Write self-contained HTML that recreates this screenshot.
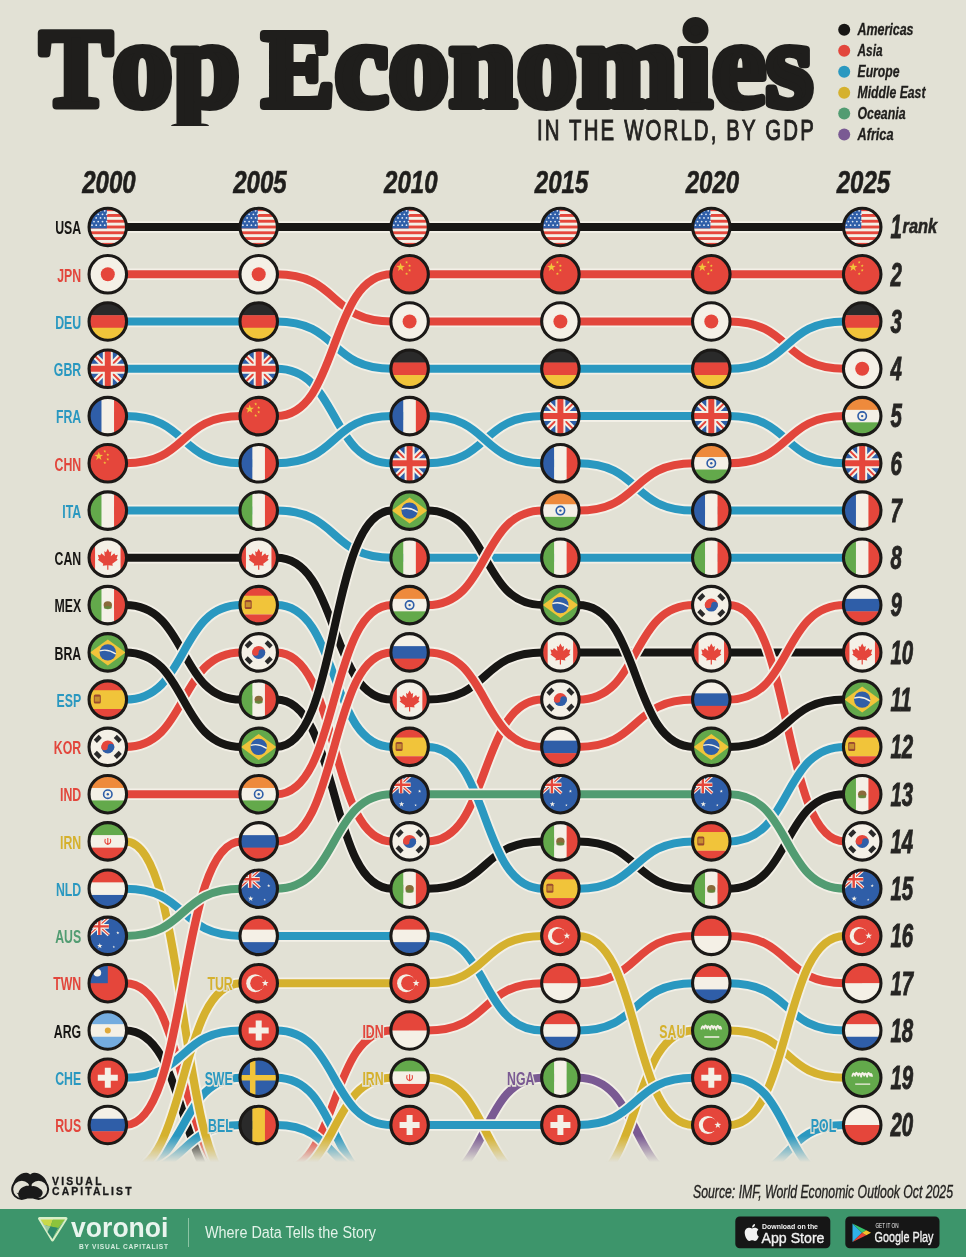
<!DOCTYPE html>
<html><head><meta charset="utf-8"><title>Top Economies in the World, by GDP</title><style>html,body{margin:0;padding:0;background:#e2e1d5;}svg{display:block;}</style></head>
<body>
<svg width="966" height="1257" viewBox="0 0 966 1257">
<defs>
<clipPath id="cc"><circle r="18.75"/></clipPath>
<clipPath id="tclip"><rect x="0" y="0" width="830" height="126"/></clipPath>
<linearGradient id="fadeg" x1="0" y1="0" x2="0" y2="1" gradientUnits="objectBoundingBox"><stop offset="0" stop-color="#fff"/><stop offset="1" stop-color="#000"/></linearGradient>
<mask id="fade" maskUnits="userSpaceOnUse" x="0" y="0" width="966" height="1257"><rect x="0" y="0" width="966" height="1136" fill="#fff"/><rect x="0" y="1136" width="966" height="26" fill="url(#fadeg)"/></mask>
<g id="fUSA"><g clip-path="url(#cc)"><rect x="-18.75" y="-18.75" width="37.5" height="37.5" fill="#f4f0e6"/><rect x="-18.75" y="-18.75" width="37.5" height="2.88" fill="#e5463b"/><rect x="-18.75" y="-12.98" width="37.5" height="2.88" fill="#e5463b"/><rect x="-18.75" y="-7.21" width="37.5" height="2.88" fill="#e5463b"/><rect x="-18.75" y="-1.44" width="37.5" height="2.88" fill="#e5463b"/><rect x="-18.75" y="4.33" width="37.5" height="2.88" fill="#e5463b"/><rect x="-18.75" y="10.10" width="37.5" height="2.88" fill="#e5463b"/><rect x="-18.75" y="15.87" width="37.5" height="2.88" fill="#e5463b"/><rect x="-18.75" y="-18.75" width="17.81" height="20.19" fill="#2f5ea8"/><circle cx="-15.8" cy="-16.2" r="0.9" fill="#dfe8f5"/><circle cx="-11.6" cy="-16.2" r="0.9" fill="#dfe8f5"/><circle cx="-7.3" cy="-16.2" r="0.9" fill="#dfe8f5"/><circle cx="-3.1" cy="-16.2" r="0.9" fill="#dfe8f5"/><circle cx="-13.8" cy="-12.7" r="0.9" fill="#dfe8f5"/><circle cx="-9.6" cy="-12.7" r="0.9" fill="#dfe8f5"/><circle cx="-5.3" cy="-12.7" r="0.9" fill="#dfe8f5"/><circle cx="-1.1" cy="-12.7" r="0.9" fill="#dfe8f5"/><circle cx="-15.8" cy="-9.1" r="0.9" fill="#dfe8f5"/><circle cx="-11.6" cy="-9.1" r="0.9" fill="#dfe8f5"/><circle cx="-7.3" cy="-9.1" r="0.9" fill="#dfe8f5"/><circle cx="-3.1" cy="-9.1" r="0.9" fill="#dfe8f5"/><circle cx="-13.8" cy="-5.4" r="0.9" fill="#dfe8f5"/><circle cx="-9.6" cy="-5.4" r="0.9" fill="#dfe8f5"/><circle cx="-5.3" cy="-5.4" r="0.9" fill="#dfe8f5"/><circle cx="-1.1" cy="-5.4" r="0.9" fill="#dfe8f5"/><circle cx="-15.8" cy="-1.8" r="0.9" fill="#dfe8f5"/><circle cx="-11.6" cy="-1.8" r="0.9" fill="#dfe8f5"/><circle cx="-7.3" cy="-1.8" r="0.9" fill="#dfe8f5"/><circle cx="-3.1" cy="-1.8" r="0.9" fill="#dfe8f5"/></g><circle r="18.75" fill="none" stroke="#1b1917" stroke-width="3.1"/></g>
<g id="fJPN"><g clip-path="url(#cc)"><rect x="-18.75" y="-18.75" width="37.5" height="37.5" fill="#f4f0e6"/><circle r="7" fill="#e5463b"/></g><circle r="18.75" fill="none" stroke="#1b1917" stroke-width="3.1"/></g>
<g id="fDEU"><g clip-path="url(#cc)"><rect x="-18.75" y="-18.75" width="37.5" height="12.80" fill="#2a2a2a"/><rect x="-18.75" y="-6.25" width="37.5" height="12.80" fill="#e5463b"/><rect x="-18.75" y="6.25" width="37.5" height="12.80" fill="#f1c43a"/></g><circle r="18.75" fill="none" stroke="#1b1917" stroke-width="3.1"/></g>
<g id="fGBR"><g clip-path="url(#cc)"><rect x="-18.75" y="-18.75" width="37.5" height="37.5" fill="#2f5ea8"/><path d="M-18.75,-18.75L18.75,18.75M18.75,-18.75L-18.75,18.75" stroke="#f4f0e6" stroke-width="6"/><path d="M-18.75,-18.75L18.75,18.75M18.75,-18.75L-18.75,18.75" stroke="#e5463b" stroke-width="2"/><path d="M0,-18.75V18.75M-18.75,0H18.75" stroke="#f4f0e6" stroke-width="10"/><path d="M0,-18.75V18.75M-18.75,0H18.75" stroke="#e5463b" stroke-width="6"/></g><circle r="18.75" fill="none" stroke="#1b1917" stroke-width="3.1"/></g>
<g id="fFRA"><g clip-path="url(#cc)"><rect x="-18.75" y="-18.75" width="12.80" height="37.5" fill="#2f5ea8"/><rect x="-6.25" y="-18.75" width="12.80" height="37.5" fill="#f4f0e6"/><rect x="6.25" y="-18.75" width="12.80" height="37.5" fill="#e5463b"/></g><circle r="18.75" fill="none" stroke="#1b1917" stroke-width="3.1"/></g>
<g id="fCHN"><g clip-path="url(#cc)"><rect x="-18.75" y="-18.75" width="37.5" height="37.5" fill="#e5463b"/><polygon points="-9.00,-11.50 -7.94,-8.46 -4.72,-8.39 -7.29,-6.44 -6.35,-3.36 -9.00,-5.20 -11.65,-3.36 -10.71,-6.44 -13.28,-8.39 -10.06,-8.46" fill="#f1c43a"/><polygon points="-3.00,-13.60 -2.62,-12.52 -1.48,-12.49 -2.39,-11.80 -2.06,-10.71 -3.00,-11.36 -3.94,-10.71 -3.61,-11.80 -4.52,-12.49 -3.38,-12.52" fill="#f1c43a"/><polygon points="0.00,-10.10 0.38,-9.02 1.52,-8.99 0.61,-8.30 0.94,-7.21 0.00,-7.86 -0.94,-7.21 -0.61,-8.30 -1.52,-8.99 -0.38,-9.02" fill="#f1c43a"/><polygon points="0.00,-5.60 0.38,-4.52 1.52,-4.49 0.61,-3.80 0.94,-2.71 0.00,-3.36 -0.94,-2.71 -0.61,-3.80 -1.52,-4.49 -0.38,-4.52" fill="#f1c43a"/><polygon points="-3.00,-2.10 -2.62,-1.02 -1.48,-0.99 -2.39,-0.30 -2.06,0.79 -3.00,0.14 -3.94,0.79 -3.61,-0.30 -4.52,-0.99 -3.38,-1.02" fill="#f1c43a"/></g><circle r="18.75" fill="none" stroke="#1b1917" stroke-width="3.1"/></g>
<g id="fITA"><g clip-path="url(#cc)"><rect x="-18.75" y="-18.75" width="12.80" height="37.5" fill="#63a94b"/><rect x="-6.25" y="-18.75" width="12.80" height="37.5" fill="#f4f0e6"/><rect x="6.25" y="-18.75" width="12.80" height="37.5" fill="#e5463b"/></g><circle r="18.75" fill="none" stroke="#1b1917" stroke-width="3.1"/></g>
<g id="fCAN"><g clip-path="url(#cc)"><rect x="-18.75" y="-18.75" width="37.5" height="37.5" fill="#f4f0e6"/><rect x="-18.75" y="-18.75" width="6" height="37.5" fill="#e5463b"/><rect x="12.75" y="-18.75" width="6" height="37.5" fill="#e5463b"/><path d="M0,-9L1.8,-5.5L3.6,-6.5L3,-1.5L6.5,-4.5L7.5,-2.5L10,-3L8.8,1L10,2L4.5,6L5,8L0.6,7.4L0.6,12H-0.6L-0.6,7.4L-5,8L-4.5,6L-10,2L-8.8,1L-10,-3L-7.5,-2.5L-6.5,-4.5L-3,-1.5L-3.6,-6.5L-1.8,-5.5Z" fill="#e5463b"/></g><circle r="18.75" fill="none" stroke="#1b1917" stroke-width="3.1"/></g>
<g id="fMEX"><g clip-path="url(#cc)"><rect x="-18.75" y="-18.75" width="12.80" height="37.5" fill="#63a94b"/><rect x="-6.25" y="-18.75" width="12.80" height="37.5" fill="#f4f0e6"/><rect x="6.25" y="-18.75" width="12.80" height="37.5" fill="#e5463b"/><ellipse cx="0" cy="0" rx="4.2" ry="3.8" fill="#8a6a3a"/><ellipse cx="0" cy="2.5" rx="4" ry="1.6" fill="#5e8a3a" opacity="0.8"/></g><circle r="18.75" fill="none" stroke="#1b1917" stroke-width="3.1"/></g>
<g id="fBRA"><g clip-path="url(#cc)"><rect x="-18.75" y="-18.75" width="37.5" height="37.5" fill="#63a94b"/><polygon points="-17.75,0 0,-13 17.75,0 0,13" fill="#f1c43a"/><circle r="8.2" fill="#2f5ea8"/><path d="M-8,-1.5Q0,-4 8,1.5" stroke="#f4f0e6" stroke-width="1.4" fill="none"/></g><circle r="18.75" fill="none" stroke="#1b1917" stroke-width="3.1"/></g>
<g id="fESP"><g clip-path="url(#cc)"><rect x="-18.75" y="-18.75" width="37.5" height="18.75" fill="#e5463b"/><rect x="-18.75" y="-9.38" width="37.5" height="18.75" fill="#f1c43a"/><rect x="-18.75" y="9.38" width="37.5" height="9.57" fill="#e5463b"/><rect x="-14" y="-5" width="7" height="9" rx="1.5" fill="#9a4a30"/><rect x="-13" y="-3" width="5" height="5" fill="#c8902f"/></g><circle r="18.75" fill="none" stroke="#1b1917" stroke-width="3.1"/></g>
<g id="fKOR"><g clip-path="url(#cc)"><rect x="-18.75" y="-18.75" width="37.5" height="37.5" fill="#f4f0e6"/><path d="M-6.5,0A6.5,6.5 0 0 1 6.5,0Z" fill="#e5463b"/><path d="M-6.5,0A6.5,6.5 0 0 0 6.5,0Z" fill="#2f5ea8"/><circle cx="-3.25" cy="0" r="3.25" fill="#e5463b"/><circle cx="3.25" cy="0" r="3.25" fill="#2f5ea8"/><rect x="-12.2" y="-11.5" width="4.4" height="7" fill="#2a2a2a" transform="rotate(45 -10 -8)"/><rect x="7.8" y="-11.5" width="4.4" height="7" fill="#2a2a2a" transform="rotate(-45 10 -8)"/><rect x="-12.2" y="4.5" width="4.4" height="7" fill="#2a2a2a" transform="rotate(-45 -10 8)"/><rect x="7.8" y="4.5" width="4.4" height="7" fill="#2a2a2a" transform="rotate(45 10 8)"/></g><circle r="18.75" fill="none" stroke="#1b1917" stroke-width="3.1"/></g>
<g id="fIND"><g clip-path="url(#cc)"><rect x="-18.75" y="-18.75" width="37.5" height="12.80" fill="#ee8a3c"/><rect x="-18.75" y="-6.25" width="37.5" height="12.80" fill="#f4f0e6"/><rect x="-18.75" y="6.25" width="37.5" height="12.80" fill="#63a94b"/><circle r="4.2" fill="none" stroke="#2f5ea8" stroke-width="1.6"/><circle r="1.2" fill="#2f5ea8"/></g><circle r="18.75" fill="none" stroke="#1b1917" stroke-width="3.1"/></g>
<g id="fIRN"><g clip-path="url(#cc)"><rect x="-18.75" y="-18.75" width="37.5" height="12.80" fill="#63a94b"/><rect x="-18.75" y="-6.25" width="37.5" height="12.80" fill="#f4f0e6"/><rect x="-18.75" y="6.25" width="37.5" height="12.80" fill="#e5463b"/><path d="M-2.5,-2.5Q-4,2 0,3Q4,2 2.5,-2.5M0,-3.5V3" stroke="#e5463b" stroke-width="1.1" fill="none"/></g><circle r="18.75" fill="none" stroke="#1b1917" stroke-width="3.1"/></g>
<g id="fNLD"><g clip-path="url(#cc)"><rect x="-18.75" y="-18.75" width="37.5" height="12.80" fill="#e5463b"/><rect x="-18.75" y="-6.25" width="37.5" height="12.80" fill="#f4f0e6"/><rect x="-18.75" y="6.25" width="37.5" height="12.80" fill="#2f5ea8"/></g><circle r="18.75" fill="none" stroke="#1b1917" stroke-width="3.1"/></g>
<g id="fAUS"><g clip-path="url(#cc)"><rect x="-18.75" y="-18.75" width="37.5" height="37.5" fill="#2f5ea8"/><path d="M-18.75,-18.75L1,-1M1,-18.75L-18.75,-1" stroke="#f4f0e6" stroke-width="3.4"/><path d="M-18.75,-18.75L1,-1M1,-18.75L-18.75,-1" stroke="#e5463b" stroke-width="1.2"/><path d="M-8.5,-18.75V-1M-18.75,-9.5H1" stroke="#f4f0e6" stroke-width="4.6"/><path d="M-8.5,-18.75V-1M-18.75,-9.5H1" stroke="#e5463b" stroke-width="2.4"/><polygon points="-8.00,7.20 -7.34,9.09 -5.34,9.13 -6.93,10.35 -6.35,12.27 -8.00,11.12 -9.65,12.27 -9.07,10.35 -10.66,9.13 -8.66,9.09" fill="#f4f0e6"/><polygon points="10.00,-4.70 10.40,-3.55 11.62,-3.53 10.65,-2.79 11.00,-1.62 10.00,-2.32 9.00,-1.62 9.35,-2.79 8.38,-3.53 9.60,-3.55" fill="#f4f0e6"/><polygon points="6.00,9.70 6.31,10.58 7.24,10.60 6.49,11.16 6.76,12.05 6.00,11.52 5.24,12.05 5.51,11.16 4.76,10.60 5.69,10.58" fill="#f4f0e6"/></g><circle r="18.75" fill="none" stroke="#1b1917" stroke-width="3.1"/></g>
<g id="fTWN"><g clip-path="url(#cc)"><rect x="-18.75" y="-18.75" width="37.5" height="37.5" fill="#e5463b"/><rect x="-18.75" y="-18.75" width="18.75" height="18.75" fill="#2f5ea8"/><circle cx="-10.4" cy="-10.4" r="3.8" fill="#f4f0e6"/></g><circle r="18.75" fill="none" stroke="#1b1917" stroke-width="3.1"/></g>
<g id="fARG"><g clip-path="url(#cc)"><rect x="-18.75" y="-18.75" width="37.5" height="12.80" fill="#74acdf"/><rect x="-18.75" y="-6.25" width="37.5" height="12.80" fill="#f4f0e6"/><rect x="-18.75" y="6.25" width="37.5" height="12.80" fill="#74acdf"/><circle r="3" fill="#e0a93a"/></g><circle r="18.75" fill="none" stroke="#1b1917" stroke-width="3.1"/></g>
<g id="fCHE"><g clip-path="url(#cc)"><rect x="-18.75" y="-18.75" width="37.5" height="37.5" fill="#e5463b"/><path d="M-3,-10H3V-3H10V3H3V10H-3V3H-10V-3H-3Z" fill="#f4f0e6"/></g><circle r="18.75" fill="none" stroke="#1b1917" stroke-width="3.1"/></g>
<g id="fRUS"><g clip-path="url(#cc)"><rect x="-18.75" y="-18.75" width="37.5" height="12.80" fill="#f4f0e6"/><rect x="-18.75" y="-6.25" width="37.5" height="12.80" fill="#2f5ea8"/><rect x="-18.75" y="6.25" width="37.5" height="12.80" fill="#e5463b"/></g><circle r="18.75" fill="none" stroke="#1b1917" stroke-width="3.1"/></g>
<g id="fTUR"><g clip-path="url(#cc)"><rect x="-18.75" y="-18.75" width="37.5" height="37.5" fill="#e5463b"/><circle cx="-3.5" cy="0" r="9" fill="#f4f0e6"/><circle cx="-1.2" cy="0" r="7.3" fill="#e5463b"/><polygon points="6.50,-3.60 7.35,-1.16 9.92,-1.11 7.87,0.44 8.62,2.91 6.50,1.44 4.38,2.91 5.13,0.44 3.08,-1.11 5.65,-1.16" fill="#f4f0e6"/></g><circle r="18.75" fill="none" stroke="#1b1917" stroke-width="3.1"/></g>
<g id="fSWE"><g clip-path="url(#cc)"><rect x="-18.75" y="-18.75" width="37.5" height="37.5" fill="#2f5ea8"/><path d="M-6,-18.75V18.75M-18.75,0H18.75" stroke="#f1c43a" stroke-width="5.5"/></g><circle r="18.75" fill="none" stroke="#1b1917" stroke-width="3.1"/></g>
<g id="fBEL"><g clip-path="url(#cc)"><rect x="-18.75" y="-18.75" width="12.80" height="37.5" fill="#2a2a2a"/><rect x="-6.25" y="-18.75" width="12.80" height="37.5" fill="#f1c43a"/><rect x="6.25" y="-18.75" width="12.80" height="37.5" fill="#e5463b"/></g><circle r="18.75" fill="none" stroke="#1b1917" stroke-width="3.1"/></g>
<g id="fIDN"><g clip-path="url(#cc)"><rect x="-18.75" y="-18.75" width="37.5" height="19.05" fill="#e5463b"/><rect x="-18.75" y="0.00" width="37.5" height="19.05" fill="#f4f0e6"/></g><circle r="18.75" fill="none" stroke="#1b1917" stroke-width="3.1"/></g>
<g id="fNGA"><g clip-path="url(#cc)"><rect x="-18.75" y="-18.75" width="12.80" height="37.5" fill="#63a94b"/><rect x="-6.25" y="-18.75" width="12.80" height="37.5" fill="#f4f0e6"/><rect x="6.25" y="-18.75" width="12.80" height="37.5" fill="#63a94b"/></g><circle r="18.75" fill="none" stroke="#1b1917" stroke-width="3.1"/></g>
<g id="fSAU"><g clip-path="url(#cc)"><rect x="-18.75" y="-18.75" width="37.5" height="37.5" fill="#63a94b"/><path d="M-10,-1 Q-9,-7 -7,-2 Q-6,-8 -4,-2 Q-3,-7 -1,-1 Q0,-8 2,-2 Q3,-7 5,-1 Q6,-8 8,-2 Q9,-6 10,-1" stroke="#f4f0e6" stroke-width="1.8" fill="none" stroke-linejoin="round"/><path d="M-9,-3.5H9" stroke="#f4f0e6" stroke-width="1.2"/><path d="M-7,6.5H8" stroke="#f4f0e6" stroke-width="1.3"/></g><circle r="18.75" fill="none" stroke="#1b1917" stroke-width="3.1"/></g>
<g id="fPOL"><g clip-path="url(#cc)"><rect x="-18.75" y="-18.75" width="37.5" height="19.05" fill="#f4f0e6"/><rect x="-18.75" y="0.00" width="37.5" height="19.05" fill="#e5463b"/></g><circle r="18.75" fill="none" stroke="#1b1917" stroke-width="3.1"/></g>
</defs>
<rect width="966" height="1257" fill="#e2e1d5"/>
<g clip-path="url(#tclip)">
<text x="40" y="106" font-family="'Liberation Serif', serif" font-weight="bold" fill="#1f1e1c" stroke="#1f1e1c" stroke-width="8" stroke-linejoin="round" lengthAdjust="spacingAndGlyphs" textLength="200"><tspan font-size="110">T</tspan><tspan font-size="123">op</tspan></text>
<text x="262" y="106" font-family="'Liberation Serif', serif" font-weight="bold" fill="#1f1e1c" stroke="#1f1e1c" stroke-width="8" stroke-linejoin="round" lengthAdjust="spacingAndGlyphs" textLength="551"><tspan font-size="110">E</tspan><tspan font-size="123">conomies</tspan></text>
</g>
<text transform="translate(537,140.3) scale(0.68,1)" font-family="'Liberation Sans', sans-serif" font-size="30" fill="#232220" stroke="#232220" stroke-width="1" textLength="407" lengthAdjust="spacing">IN THE WORLD, BY GDP</text>
<circle cx="844.2" cy="29.8" r="6" fill="#171614"/>
<text x="857.5" y="35.4" font-family="'Liberation Sans', sans-serif" font-weight="bold" font-style="italic" font-size="16" fill="#1f1e1c" stroke="#1f1e1c" stroke-width="0.3" textLength="56" lengthAdjust="spacingAndGlyphs">Americas</text>
<circle cx="844.2" cy="50.8" r="6" fill="#e2463c"/>
<text x="857.5" y="56.4" font-family="'Liberation Sans', sans-serif" font-weight="bold" font-style="italic" font-size="16" fill="#1f1e1c" stroke="#1f1e1c" stroke-width="0.3" textLength="25" lengthAdjust="spacingAndGlyphs">Asia</text>
<circle cx="844.2" cy="71.7" r="6" fill="#2a98c0"/>
<text x="857.5" y="77.3" font-family="'Liberation Sans', sans-serif" font-weight="bold" font-style="italic" font-size="16" fill="#1f1e1c" stroke="#1f1e1c" stroke-width="0.3" textLength="42" lengthAdjust="spacingAndGlyphs">Europe</text>
<circle cx="844.2" cy="92.7" r="6" fill="#d5b12e"/>
<text x="857.5" y="98.3" font-family="'Liberation Sans', sans-serif" font-weight="bold" font-style="italic" font-size="16" fill="#1f1e1c" stroke="#1f1e1c" stroke-width="0.3" textLength="68" lengthAdjust="spacingAndGlyphs">Middle East</text>
<circle cx="844.2" cy="113.6" r="6" fill="#529c72"/>
<text x="857.5" y="119.2" font-family="'Liberation Sans', sans-serif" font-weight="bold" font-style="italic" font-size="16" fill="#1f1e1c" stroke="#1f1e1c" stroke-width="0.3" textLength="48" lengthAdjust="spacingAndGlyphs">Oceania</text>
<circle cx="844.2" cy="134.6" r="6" fill="#7a5a93"/>
<text x="857.5" y="140.2" font-family="'Liberation Sans', sans-serif" font-weight="bold" font-style="italic" font-size="16" fill="#1f1e1c" stroke="#1f1e1c" stroke-width="0.3" textLength="36" lengthAdjust="spacingAndGlyphs">Africa</text>
<text x="109.0" y="193.2" text-anchor="middle" font-family="'Liberation Sans', sans-serif" font-weight="bold" font-style="italic" font-size="31" fill="#1f1e1c" stroke="#1f1e1c" stroke-width="0.6" textLength="53.5" lengthAdjust="spacingAndGlyphs">2000</text>
<text x="259.9" y="193.2" text-anchor="middle" font-family="'Liberation Sans', sans-serif" font-weight="bold" font-style="italic" font-size="31" fill="#1f1e1c" stroke="#1f1e1c" stroke-width="0.6" textLength="53.5" lengthAdjust="spacingAndGlyphs">2005</text>
<text x="410.8" y="193.2" text-anchor="middle" font-family="'Liberation Sans', sans-serif" font-weight="bold" font-style="italic" font-size="31" fill="#1f1e1c" stroke="#1f1e1c" stroke-width="0.6" textLength="53.5" lengthAdjust="spacingAndGlyphs">2010</text>
<text x="561.6" y="193.2" text-anchor="middle" font-family="'Liberation Sans', sans-serif" font-weight="bold" font-style="italic" font-size="31" fill="#1f1e1c" stroke="#1f1e1c" stroke-width="0.6" textLength="53.5" lengthAdjust="spacingAndGlyphs">2015</text>
<text x="712.5" y="193.2" text-anchor="middle" font-family="'Liberation Sans', sans-serif" font-weight="bold" font-style="italic" font-size="31" fill="#1f1e1c" stroke="#1f1e1c" stroke-width="0.6" textLength="53.5" lengthAdjust="spacingAndGlyphs">2020</text>
<text x="863.4" y="193.2" text-anchor="middle" font-family="'Liberation Sans', sans-serif" font-weight="bold" font-style="italic" font-size="31" fill="#1f1e1c" stroke="#1f1e1c" stroke-width="0.6" textLength="53.5" lengthAdjust="spacingAndGlyphs">2025</text>
<g mask="url(#fade)" fill="none" stroke-linecap="butt">
<path d="M107.8,983.2H125.3C189.0,983.2 177.4,1178.0 241.2,1178.0H258.7" stroke="#f3f0e7" stroke-width="11.6"/>
<path d="M107.8,983.2H125.3C189.0,983.2 177.4,1178.0 241.2,1178.0H258.7" stroke="#e2463c" stroke-width="8"/>
<path d="M107.8,1030.5H125.3C189.0,1030.5 177.4,1196.0 241.2,1196.0H258.7" stroke="#f3f0e7" stroke-width="11.6"/>
<path d="M107.8,1030.5H125.3C189.0,1030.5 177.4,1196.0 241.2,1196.0H258.7" stroke="#171614" stroke-width="8"/>
<path d="M409.6,1182.0H427.1C490.8,1182.0 479.2,1077.7 542.9,1077.7H560.4" stroke="#f3f0e7" stroke-width="11.6"/>
<path d="M409.6,1182.0H427.1C490.8,1182.0 479.2,1077.7 542.9,1077.7H560.4" stroke="#7a5a93" stroke-width="8"/>
<path d="M560.4,1077.7H577.9C641.7,1077.7 630.1,1182.0 693.8,1182.0H711.3" stroke="#f3f0e7" stroke-width="11.6"/>
<path d="M560.4,1077.7H577.9C641.7,1077.7 630.1,1182.0 693.8,1182.0H711.3" stroke="#7a5a93" stroke-width="8"/>
<path d="M258.7,1172.0H276.2C339.9,1172.0 328.3,1030.5 392.1,1030.5H409.6" stroke="#f3f0e7" stroke-width="11.6"/>
<path d="M258.7,1172.0H276.2C339.9,1172.0 328.3,1030.5 392.1,1030.5H409.6" stroke="#e2463c" stroke-width="8"/>
<path d="M409.6,1030.5H427.1C490.8,1030.5 479.2,983.2 542.9,983.2H560.4" stroke="#f3f0e7" stroke-width="11.6"/>
<path d="M409.6,1030.5H427.1C490.8,1030.5 479.2,983.2 542.9,983.2H560.4" stroke="#e2463c" stroke-width="8"/>
<path d="M560.4,983.2H577.9C641.7,983.2 630.1,935.9 693.8,935.9H711.3" stroke="#f3f0e7" stroke-width="11.6"/>
<path d="M560.4,983.2H577.9C641.7,983.2 630.1,935.9 693.8,935.9H711.3" stroke="#e2463c" stroke-width="8"/>
<path d="M711.3,935.9H728.8C792.6,935.9 781.0,983.2 844.7,983.2H862.2" stroke="#f3f0e7" stroke-width="11.6"/>
<path d="M711.3,935.9H728.8C792.6,935.9 781.0,983.2 844.7,983.2H862.2" stroke="#e2463c" stroke-width="8"/>
<path d="M107.8,1172.0H125.3C189.0,1172.0 177.4,1077.7 241.2,1077.7H258.7" stroke="#f3f0e7" stroke-width="11.6"/>
<path d="M107.8,1172.0H125.3C189.0,1172.0 177.4,1077.7 241.2,1077.7H258.7" stroke="#2a98c0" stroke-width="8"/>
<path d="M258.7,1077.7H276.2C339.9,1077.7 328.3,1186.0 392.1,1186.0H409.6" stroke="#f3f0e7" stroke-width="11.6"/>
<path d="M258.7,1077.7H276.2C339.9,1077.7 328.3,1186.0 392.1,1186.0H409.6" stroke="#2a98c0" stroke-width="8"/>
<path d="M107.8,1174.0H125.3C189.0,1174.0 177.4,1125.0 241.2,1125.0H258.7" stroke="#f3f0e7" stroke-width="11.6"/>
<path d="M107.8,1174.0H125.3C189.0,1174.0 177.4,1125.0 241.2,1125.0H258.7" stroke="#2a98c0" stroke-width="8"/>
<path d="M258.7,1125.0H276.2C339.9,1125.0 328.3,1182.0 392.1,1182.0H409.6" stroke="#f3f0e7" stroke-width="11.6"/>
<path d="M258.7,1125.0H276.2C339.9,1125.0 328.3,1182.0 392.1,1182.0H409.6" stroke="#2a98c0" stroke-width="8"/>
<path d="M107.8,841.4H125.3C189.0,841.4 177.4,1188.0 241.2,1188.0H258.7" stroke="#f3f0e7" stroke-width="11.6"/>
<path d="M107.8,841.4H125.3C189.0,841.4 177.4,1188.0 241.2,1188.0H258.7" stroke="#d5b12e" stroke-width="8"/>
<path d="M258.7,1178.0H276.2C339.9,1178.0 328.3,1077.7 392.1,1077.7H409.6" stroke="#f3f0e7" stroke-width="11.6"/>
<path d="M258.7,1178.0H276.2C339.9,1178.0 328.3,1077.7 392.1,1077.7H409.6" stroke="#d5b12e" stroke-width="8"/>
<path d="M409.6,1077.7H427.1C490.8,1077.7 479.2,1182.0 542.9,1182.0H560.4" stroke="#f3f0e7" stroke-width="11.6"/>
<path d="M409.6,1077.7H427.1C490.8,1077.7 479.2,1182.0 542.9,1182.0H560.4" stroke="#d5b12e" stroke-width="8"/>
<path d="M107.8,227.0H258.7" stroke="#f3f0e7" stroke-width="11.6"/>
<path d="M107.8,227.0H258.7" stroke="#171614" stroke-width="8"/>
<path d="M258.7,227.0H409.6" stroke="#f3f0e7" stroke-width="11.6"/>
<path d="M258.7,227.0H409.6" stroke="#171614" stroke-width="8"/>
<path d="M409.6,227.0H560.4" stroke="#f3f0e7" stroke-width="11.6"/>
<path d="M409.6,227.0H560.4" stroke="#171614" stroke-width="8"/>
<path d="M560.4,227.0H711.3" stroke="#f3f0e7" stroke-width="11.6"/>
<path d="M560.4,227.0H711.3" stroke="#171614" stroke-width="8"/>
<path d="M711.3,227.0H862.2" stroke="#f3f0e7" stroke-width="11.6"/>
<path d="M711.3,227.0H862.2" stroke="#171614" stroke-width="8"/>
<path d="M107.8,274.3H258.7" stroke="#f3f0e7" stroke-width="11.6"/>
<path d="M107.8,274.3H258.7" stroke="#e2463c" stroke-width="8"/>
<path d="M258.7,274.3H276.2C339.9,274.3 328.3,321.5 392.1,321.5H409.6" stroke="#f3f0e7" stroke-width="11.6"/>
<path d="M258.7,274.3H276.2C339.9,274.3 328.3,321.5 392.1,321.5H409.6" stroke="#e2463c" stroke-width="8"/>
<path d="M409.6,321.5H560.4" stroke="#f3f0e7" stroke-width="11.6"/>
<path d="M409.6,321.5H560.4" stroke="#e2463c" stroke-width="8"/>
<path d="M560.4,321.5H711.3" stroke="#f3f0e7" stroke-width="11.6"/>
<path d="M560.4,321.5H711.3" stroke="#e2463c" stroke-width="8"/>
<path d="M711.3,321.5H728.8C792.6,321.5 781.0,368.8 844.7,368.8H862.2" stroke="#f3f0e7" stroke-width="11.6"/>
<path d="M711.3,321.5H728.8C792.6,321.5 781.0,368.8 844.7,368.8H862.2" stroke="#e2463c" stroke-width="8"/>
<path d="M107.8,321.5H258.7" stroke="#f3f0e7" stroke-width="11.6"/>
<path d="M107.8,321.5H258.7" stroke="#2a98c0" stroke-width="8"/>
<path d="M258.7,321.5H276.2C339.9,321.5 328.3,368.8 392.1,368.8H409.6" stroke="#f3f0e7" stroke-width="11.6"/>
<path d="M258.7,321.5H276.2C339.9,321.5 328.3,368.8 392.1,368.8H409.6" stroke="#2a98c0" stroke-width="8"/>
<path d="M409.6,368.8H560.4" stroke="#f3f0e7" stroke-width="11.6"/>
<path d="M409.6,368.8H560.4" stroke="#2a98c0" stroke-width="8"/>
<path d="M560.4,368.8H711.3" stroke="#f3f0e7" stroke-width="11.6"/>
<path d="M560.4,368.8H711.3" stroke="#2a98c0" stroke-width="8"/>
<path d="M711.3,368.8H728.8C792.6,368.8 781.0,321.5 844.7,321.5H862.2" stroke="#f3f0e7" stroke-width="11.6"/>
<path d="M711.3,368.8H728.8C792.6,368.8 781.0,321.5 844.7,321.5H862.2" stroke="#2a98c0" stroke-width="8"/>
<path d="M107.8,368.8H258.7" stroke="#f3f0e7" stroke-width="11.6"/>
<path d="M107.8,368.8H258.7" stroke="#2a98c0" stroke-width="8"/>
<path d="M258.7,368.8H276.2C339.9,368.8 328.3,463.3 392.1,463.3H409.6" stroke="#f3f0e7" stroke-width="11.6"/>
<path d="M258.7,368.8H276.2C339.9,368.8 328.3,463.3 392.1,463.3H409.6" stroke="#2a98c0" stroke-width="8"/>
<path d="M409.6,463.3H427.1C490.8,463.3 479.2,416.1 542.9,416.1H560.4" stroke="#f3f0e7" stroke-width="11.6"/>
<path d="M409.6,463.3H427.1C490.8,463.3 479.2,416.1 542.9,416.1H560.4" stroke="#2a98c0" stroke-width="8"/>
<path d="M560.4,416.1H711.3" stroke="#f3f0e7" stroke-width="11.6"/>
<path d="M560.4,416.1H711.3" stroke="#2a98c0" stroke-width="8"/>
<path d="M711.3,416.1H728.8C792.6,416.1 781.0,463.3 844.7,463.3H862.2" stroke="#f3f0e7" stroke-width="11.6"/>
<path d="M711.3,416.1H728.8C792.6,416.1 781.0,463.3 844.7,463.3H862.2" stroke="#2a98c0" stroke-width="8"/>
<path d="M107.8,416.1H125.3C189.0,416.1 177.4,463.3 241.2,463.3H258.7" stroke="#f3f0e7" stroke-width="11.6"/>
<path d="M107.8,416.1H125.3C189.0,416.1 177.4,463.3 241.2,463.3H258.7" stroke="#2a98c0" stroke-width="8"/>
<path d="M258.7,463.3H276.2C339.9,463.3 328.3,416.1 392.1,416.1H409.6" stroke="#f3f0e7" stroke-width="11.6"/>
<path d="M258.7,463.3H276.2C339.9,463.3 328.3,416.1 392.1,416.1H409.6" stroke="#2a98c0" stroke-width="8"/>
<path d="M409.6,416.1H427.1C490.8,416.1 479.2,463.3 542.9,463.3H560.4" stroke="#f3f0e7" stroke-width="11.6"/>
<path d="M409.6,416.1H427.1C490.8,416.1 479.2,463.3 542.9,463.3H560.4" stroke="#2a98c0" stroke-width="8"/>
<path d="M560.4,463.3H577.9C641.7,463.3 630.1,510.6 693.8,510.6H711.3" stroke="#f3f0e7" stroke-width="11.6"/>
<path d="M560.4,463.3H577.9C641.7,463.3 630.1,510.6 693.8,510.6H711.3" stroke="#2a98c0" stroke-width="8"/>
<path d="M711.3,510.6H862.2" stroke="#f3f0e7" stroke-width="11.6"/>
<path d="M711.3,510.6H862.2" stroke="#2a98c0" stroke-width="8"/>
<path d="M107.8,510.6H258.7" stroke="#f3f0e7" stroke-width="11.6"/>
<path d="M107.8,510.6H258.7" stroke="#2a98c0" stroke-width="8"/>
<path d="M258.7,510.6H276.2C339.9,510.6 328.3,557.8 392.1,557.8H409.6" stroke="#f3f0e7" stroke-width="11.6"/>
<path d="M258.7,510.6H276.2C339.9,510.6 328.3,557.8 392.1,557.8H409.6" stroke="#2a98c0" stroke-width="8"/>
<path d="M409.6,557.8H560.4" stroke="#f3f0e7" stroke-width="11.6"/>
<path d="M409.6,557.8H560.4" stroke="#2a98c0" stroke-width="8"/>
<path d="M560.4,557.8H711.3" stroke="#f3f0e7" stroke-width="11.6"/>
<path d="M560.4,557.8H711.3" stroke="#2a98c0" stroke-width="8"/>
<path d="M711.3,557.8H862.2" stroke="#f3f0e7" stroke-width="11.6"/>
<path d="M711.3,557.8H862.2" stroke="#2a98c0" stroke-width="8"/>
<path d="M107.8,557.8H258.7" stroke="#f3f0e7" stroke-width="11.6"/>
<path d="M107.8,557.8H258.7" stroke="#171614" stroke-width="8"/>
<path d="M258.7,557.8H276.2C339.9,557.8 328.3,699.6 392.1,699.6H409.6" stroke="#f3f0e7" stroke-width="11.6"/>
<path d="M258.7,557.8H276.2C339.9,557.8 328.3,699.6 392.1,699.6H409.6" stroke="#171614" stroke-width="8"/>
<path d="M409.6,699.6H427.1C490.8,699.6 479.2,652.4 542.9,652.4H560.4" stroke="#f3f0e7" stroke-width="11.6"/>
<path d="M409.6,699.6H427.1C490.8,699.6 479.2,652.4 542.9,652.4H560.4" stroke="#171614" stroke-width="8"/>
<path d="M560.4,652.4H711.3" stroke="#f3f0e7" stroke-width="11.6"/>
<path d="M560.4,652.4H711.3" stroke="#171614" stroke-width="8"/>
<path d="M711.3,652.4H862.2" stroke="#f3f0e7" stroke-width="11.6"/>
<path d="M711.3,652.4H862.2" stroke="#171614" stroke-width="8"/>
<path d="M711.3,1180.0H728.8C792.6,1180.0 781.0,1125.0 844.7,1125.0H862.2" stroke="#f3f0e7" stroke-width="11.6"/>
<path d="M711.3,1180.0H728.8C792.6,1180.0 781.0,1125.0 844.7,1125.0H862.2" stroke="#2a98c0" stroke-width="8"/>
<path d="M560.4,1184.0H577.9C641.7,1184.0 630.1,1030.5 693.8,1030.5H711.3" stroke="#f3f0e7" stroke-width="11.6"/>
<path d="M560.4,1184.0H577.9C641.7,1184.0 630.1,1030.5 693.8,1030.5H711.3" stroke="#d5b12e" stroke-width="8"/>
<path d="M711.3,1030.5H728.8C792.6,1030.5 781.0,1077.7 844.7,1077.7H862.2" stroke="#f3f0e7" stroke-width="11.6"/>
<path d="M711.3,1030.5H728.8C792.6,1030.5 781.0,1077.7 844.7,1077.7H862.2" stroke="#d5b12e" stroke-width="8"/>
<path d="M107.8,888.7H125.3C189.0,888.7 177.4,935.9 241.2,935.9H258.7" stroke="#f3f0e7" stroke-width="11.6"/>
<path d="M107.8,888.7H125.3C189.0,888.7 177.4,935.9 241.2,935.9H258.7" stroke="#2a98c0" stroke-width="8"/>
<path d="M258.7,935.9H409.6" stroke="#f3f0e7" stroke-width="11.6"/>
<path d="M258.7,935.9H409.6" stroke="#2a98c0" stroke-width="8"/>
<path d="M409.6,935.9H427.1C490.8,935.9 479.2,1030.5 542.9,1030.5H560.4" stroke="#f3f0e7" stroke-width="11.6"/>
<path d="M409.6,935.9H427.1C490.8,935.9 479.2,1030.5 542.9,1030.5H560.4" stroke="#2a98c0" stroke-width="8"/>
<path d="M560.4,1030.5H577.9C641.7,1030.5 630.1,983.2 693.8,983.2H711.3" stroke="#f3f0e7" stroke-width="11.6"/>
<path d="M560.4,1030.5H577.9C641.7,1030.5 630.1,983.2 693.8,983.2H711.3" stroke="#2a98c0" stroke-width="8"/>
<path d="M711.3,983.2H728.8C792.6,983.2 781.0,1030.5 844.7,1030.5H862.2" stroke="#f3f0e7" stroke-width="11.6"/>
<path d="M711.3,983.2H728.8C792.6,983.2 781.0,1030.5 844.7,1030.5H862.2" stroke="#2a98c0" stroke-width="8"/>
<path d="M107.8,1172.0H125.3C189.0,1172.0 177.4,983.2 241.2,983.2H258.7" stroke="#f3f0e7" stroke-width="11.6"/>
<path d="M107.8,1172.0H125.3C189.0,1172.0 177.4,983.2 241.2,983.2H258.7" stroke="#d5b12e" stroke-width="8"/>
<path d="M258.7,983.2H409.6" stroke="#f3f0e7" stroke-width="11.6"/>
<path d="M258.7,983.2H409.6" stroke="#d5b12e" stroke-width="8"/>
<path d="M409.6,983.2H427.1C490.8,983.2 479.2,935.9 542.9,935.9H560.4" stroke="#f3f0e7" stroke-width="11.6"/>
<path d="M409.6,983.2H427.1C490.8,983.2 479.2,935.9 542.9,935.9H560.4" stroke="#d5b12e" stroke-width="8"/>
<path d="M560.4,935.9H577.9C641.7,935.9 630.1,1125.0 693.8,1125.0H711.3" stroke="#f3f0e7" stroke-width="11.6"/>
<path d="M560.4,935.9H577.9C641.7,935.9 630.1,1125.0 693.8,1125.0H711.3" stroke="#d5b12e" stroke-width="8"/>
<path d="M711.3,1125.0H728.8C792.6,1125.0 781.0,935.9 844.7,935.9H862.2" stroke="#f3f0e7" stroke-width="11.6"/>
<path d="M711.3,1125.0H728.8C792.6,1125.0 781.0,935.9 844.7,935.9H862.2" stroke="#d5b12e" stroke-width="8"/>
<path d="M107.8,1077.7H125.3C189.0,1077.7 177.4,1030.5 241.2,1030.5H258.7" stroke="#f3f0e7" stroke-width="11.6"/>
<path d="M107.8,1077.7H125.3C189.0,1077.7 177.4,1030.5 241.2,1030.5H258.7" stroke="#2a98c0" stroke-width="8"/>
<path d="M258.7,1030.5H276.2C339.9,1030.5 328.3,1125.0 392.1,1125.0H409.6" stroke="#f3f0e7" stroke-width="11.6"/>
<path d="M258.7,1030.5H276.2C339.9,1030.5 328.3,1125.0 392.1,1125.0H409.6" stroke="#2a98c0" stroke-width="8"/>
<path d="M409.6,1125.0H560.4" stroke="#f3f0e7" stroke-width="11.6"/>
<path d="M409.6,1125.0H560.4" stroke="#2a98c0" stroke-width="8"/>
<path d="M560.4,1125.0H577.9C641.7,1125.0 630.1,1077.7 693.8,1077.7H711.3" stroke="#f3f0e7" stroke-width="11.6"/>
<path d="M560.4,1125.0H577.9C641.7,1125.0 630.1,1077.7 693.8,1077.7H711.3" stroke="#2a98c0" stroke-width="8"/>
<path d="M711.3,1077.7H728.8C792.6,1077.7 781.0,1182.0 844.7,1182.0H862.2" stroke="#f3f0e7" stroke-width="11.6"/>
<path d="M711.3,1077.7H728.8C792.6,1077.7 781.0,1182.0 844.7,1182.0H862.2" stroke="#2a98c0" stroke-width="8"/>
<path d="M107.8,746.9H125.3C189.0,746.9 177.4,652.4 241.2,652.4H258.7" stroke="#f3f0e7" stroke-width="11.6"/>
<path d="M107.8,746.9H125.3C189.0,746.9 177.4,652.4 241.2,652.4H258.7" stroke="#e2463c" stroke-width="8"/>
<path d="M258.7,652.4H276.2C339.9,652.4 328.3,841.4 392.1,841.4H409.6" stroke="#f3f0e7" stroke-width="11.6"/>
<path d="M258.7,652.4H276.2C339.9,652.4 328.3,841.4 392.1,841.4H409.6" stroke="#e2463c" stroke-width="8"/>
<path d="M409.6,841.4H427.1C490.8,841.4 479.2,699.6 542.9,699.6H560.4" stroke="#f3f0e7" stroke-width="11.6"/>
<path d="M409.6,841.4H427.1C490.8,841.4 479.2,699.6 542.9,699.6H560.4" stroke="#e2463c" stroke-width="8"/>
<path d="M560.4,699.6H577.9C641.7,699.6 630.1,605.1 693.8,605.1H711.3" stroke="#f3f0e7" stroke-width="11.6"/>
<path d="M560.4,699.6H577.9C641.7,699.6 630.1,605.1 693.8,605.1H711.3" stroke="#e2463c" stroke-width="8"/>
<path d="M711.3,605.1H728.8C792.6,605.1 781.0,841.4 844.7,841.4H862.2" stroke="#f3f0e7" stroke-width="11.6"/>
<path d="M711.3,605.1H728.8C792.6,605.1 781.0,841.4 844.7,841.4H862.2" stroke="#e2463c" stroke-width="8"/>
<path d="M107.8,605.1H125.3C189.0,605.1 177.4,699.6 241.2,699.6H258.7" stroke="#f3f0e7" stroke-width="11.6"/>
<path d="M107.8,605.1H125.3C189.0,605.1 177.4,699.6 241.2,699.6H258.7" stroke="#171614" stroke-width="8"/>
<path d="M258.7,699.6H276.2C339.9,699.6 328.3,888.7 392.1,888.7H409.6" stroke="#f3f0e7" stroke-width="11.6"/>
<path d="M258.7,699.6H276.2C339.9,699.6 328.3,888.7 392.1,888.7H409.6" stroke="#171614" stroke-width="8"/>
<path d="M409.6,888.7H427.1C490.8,888.7 479.2,841.4 542.9,841.4H560.4" stroke="#f3f0e7" stroke-width="11.6"/>
<path d="M409.6,888.7H427.1C490.8,888.7 479.2,841.4 542.9,841.4H560.4" stroke="#171614" stroke-width="8"/>
<path d="M560.4,841.4H577.9C641.7,841.4 630.1,888.7 693.8,888.7H711.3" stroke="#f3f0e7" stroke-width="11.6"/>
<path d="M560.4,841.4H577.9C641.7,841.4 630.1,888.7 693.8,888.7H711.3" stroke="#171614" stroke-width="8"/>
<path d="M711.3,888.7H728.8C792.6,888.7 781.0,794.2 844.7,794.2H862.2" stroke="#f3f0e7" stroke-width="11.6"/>
<path d="M711.3,888.7H728.8C792.6,888.7 781.0,794.2 844.7,794.2H862.2" stroke="#171614" stroke-width="8"/>
<path d="M107.8,699.6H125.3C189.0,699.6 177.4,605.1 241.2,605.1H258.7" stroke="#f3f0e7" stroke-width="11.6"/>
<path d="M107.8,699.6H125.3C189.0,699.6 177.4,605.1 241.2,605.1H258.7" stroke="#2a98c0" stroke-width="8"/>
<path d="M258.7,605.1H276.2C339.9,605.1 328.3,746.9 392.1,746.9H409.6" stroke="#f3f0e7" stroke-width="11.6"/>
<path d="M258.7,605.1H276.2C339.9,605.1 328.3,746.9 392.1,746.9H409.6" stroke="#2a98c0" stroke-width="8"/>
<path d="M409.6,746.9H427.1C490.8,746.9 479.2,888.7 542.9,888.7H560.4" stroke="#f3f0e7" stroke-width="11.6"/>
<path d="M409.6,746.9H427.1C490.8,746.9 479.2,888.7 542.9,888.7H560.4" stroke="#2a98c0" stroke-width="8"/>
<path d="M560.4,888.7H577.9C641.7,888.7 630.1,841.4 693.8,841.4H711.3" stroke="#f3f0e7" stroke-width="11.6"/>
<path d="M560.4,888.7H577.9C641.7,888.7 630.1,841.4 693.8,841.4H711.3" stroke="#2a98c0" stroke-width="8"/>
<path d="M711.3,841.4H728.8C792.6,841.4 781.0,746.9 844.7,746.9H862.2" stroke="#f3f0e7" stroke-width="11.6"/>
<path d="M711.3,841.4H728.8C792.6,841.4 781.0,746.9 844.7,746.9H862.2" stroke="#2a98c0" stroke-width="8"/>
<path d="M107.8,1125.0H125.3C189.0,1125.0 177.4,841.4 241.2,841.4H258.7" stroke="#f3f0e7" stroke-width="11.6"/>
<path d="M107.8,1125.0H125.3C189.0,1125.0 177.4,841.4 241.2,841.4H258.7" stroke="#e2463c" stroke-width="8"/>
<path d="M258.7,841.4H276.2C339.9,841.4 328.3,652.4 392.1,652.4H409.6" stroke="#f3f0e7" stroke-width="11.6"/>
<path d="M258.7,841.4H276.2C339.9,841.4 328.3,652.4 392.1,652.4H409.6" stroke="#e2463c" stroke-width="8"/>
<path d="M409.6,652.4H427.1C490.8,652.4 479.2,746.9 542.9,746.9H560.4" stroke="#f3f0e7" stroke-width="11.6"/>
<path d="M409.6,652.4H427.1C490.8,652.4 479.2,746.9 542.9,746.9H560.4" stroke="#e2463c" stroke-width="8"/>
<path d="M560.4,746.9H577.9C641.7,746.9 630.1,699.6 693.8,699.6H711.3" stroke="#f3f0e7" stroke-width="11.6"/>
<path d="M560.4,746.9H577.9C641.7,746.9 630.1,699.6 693.8,699.6H711.3" stroke="#e2463c" stroke-width="8"/>
<path d="M711.3,699.6H728.8C792.6,699.6 781.0,605.1 844.7,605.1H862.2" stroke="#f3f0e7" stroke-width="11.6"/>
<path d="M711.3,699.6H728.8C792.6,699.6 781.0,605.1 844.7,605.1H862.2" stroke="#e2463c" stroke-width="8"/>
<path d="M107.8,935.9H125.3C189.0,935.9 177.4,888.7 241.2,888.7H258.7" stroke="#f3f0e7" stroke-width="11.6"/>
<path d="M107.8,935.9H125.3C189.0,935.9 177.4,888.7 241.2,888.7H258.7" stroke="#529c72" stroke-width="8"/>
<path d="M258.7,888.7H276.2C339.9,888.7 328.3,794.2 392.1,794.2H409.6" stroke="#f3f0e7" stroke-width="11.6"/>
<path d="M258.7,888.7H276.2C339.9,888.7 328.3,794.2 392.1,794.2H409.6" stroke="#529c72" stroke-width="8"/>
<path d="M409.6,794.2H560.4" stroke="#f3f0e7" stroke-width="11.6"/>
<path d="M409.6,794.2H560.4" stroke="#529c72" stroke-width="8"/>
<path d="M560.4,794.2H711.3" stroke="#f3f0e7" stroke-width="11.6"/>
<path d="M560.4,794.2H711.3" stroke="#529c72" stroke-width="8"/>
<path d="M711.3,794.2H728.8C792.6,794.2 781.0,888.7 844.7,888.7H862.2" stroke="#f3f0e7" stroke-width="11.6"/>
<path d="M711.3,794.2H728.8C792.6,794.2 781.0,888.7 844.7,888.7H862.2" stroke="#529c72" stroke-width="8"/>
<path d="M107.8,652.4H125.3C189.0,652.4 177.4,746.9 241.2,746.9H258.7" stroke="#f3f0e7" stroke-width="11.6"/>
<path d="M107.8,652.4H125.3C189.0,652.4 177.4,746.9 241.2,746.9H258.7" stroke="#171614" stroke-width="8"/>
<path d="M258.7,746.9H276.2C339.9,746.9 328.3,510.6 392.1,510.6H409.6" stroke="#f3f0e7" stroke-width="11.6"/>
<path d="M258.7,746.9H276.2C339.9,746.9 328.3,510.6 392.1,510.6H409.6" stroke="#171614" stroke-width="8"/>
<path d="M409.6,510.6H427.1C490.8,510.6 479.2,605.1 542.9,605.1H560.4" stroke="#f3f0e7" stroke-width="11.6"/>
<path d="M409.6,510.6H427.1C490.8,510.6 479.2,605.1 542.9,605.1H560.4" stroke="#171614" stroke-width="8"/>
<path d="M560.4,605.1H577.9C641.7,605.1 630.1,746.9 693.8,746.9H711.3" stroke="#f3f0e7" stroke-width="11.6"/>
<path d="M560.4,605.1H577.9C641.7,605.1 630.1,746.9 693.8,746.9H711.3" stroke="#171614" stroke-width="8"/>
<path d="M711.3,746.9H728.8C792.6,746.9 781.0,699.6 844.7,699.6H862.2" stroke="#f3f0e7" stroke-width="11.6"/>
<path d="M711.3,746.9H728.8C792.6,746.9 781.0,699.6 844.7,699.6H862.2" stroke="#171614" stroke-width="8"/>
<path d="M107.8,794.2H258.7" stroke="#f3f0e7" stroke-width="11.6"/>
<path d="M107.8,794.2H258.7" stroke="#e2463c" stroke-width="8"/>
<path d="M258.7,794.2H276.2C339.9,794.2 328.3,605.1 392.1,605.1H409.6" stroke="#f3f0e7" stroke-width="11.6"/>
<path d="M258.7,794.2H276.2C339.9,794.2 328.3,605.1 392.1,605.1H409.6" stroke="#e2463c" stroke-width="8"/>
<path d="M409.6,605.1H427.1C490.8,605.1 479.2,510.6 542.9,510.6H560.4" stroke="#f3f0e7" stroke-width="11.6"/>
<path d="M409.6,605.1H427.1C490.8,605.1 479.2,510.6 542.9,510.6H560.4" stroke="#e2463c" stroke-width="8"/>
<path d="M560.4,510.6H577.9C641.7,510.6 630.1,463.3 693.8,463.3H711.3" stroke="#f3f0e7" stroke-width="11.6"/>
<path d="M560.4,510.6H577.9C641.7,510.6 630.1,463.3 693.8,463.3H711.3" stroke="#e2463c" stroke-width="8"/>
<path d="M711.3,463.3H728.8C792.6,463.3 781.0,416.1 844.7,416.1H862.2" stroke="#f3f0e7" stroke-width="11.6"/>
<path d="M711.3,463.3H728.8C792.6,463.3 781.0,416.1 844.7,416.1H862.2" stroke="#e2463c" stroke-width="8"/>
<path d="M107.8,463.3H125.3C189.0,463.3 177.4,416.1 241.2,416.1H258.7" stroke="#f3f0e7" stroke-width="11.6"/>
<path d="M107.8,463.3H125.3C189.0,463.3 177.4,416.1 241.2,416.1H258.7" stroke="#e2463c" stroke-width="8"/>
<path d="M258.7,416.1H276.2C339.9,416.1 328.3,274.3 392.1,274.3H409.6" stroke="#f3f0e7" stroke-width="11.6"/>
<path d="M258.7,416.1H276.2C339.9,416.1 328.3,274.3 392.1,274.3H409.6" stroke="#e2463c" stroke-width="8"/>
<path d="M409.6,274.3H560.4" stroke="#f3f0e7" stroke-width="11.6"/>
<path d="M409.6,274.3H560.4" stroke="#e2463c" stroke-width="8"/>
<path d="M560.4,274.3H711.3" stroke="#f3f0e7" stroke-width="11.6"/>
<path d="M560.4,274.3H711.3" stroke="#e2463c" stroke-width="8"/>
<path d="M711.3,274.3H862.2" stroke="#f3f0e7" stroke-width="11.6"/>
<path d="M711.3,274.3H862.2" stroke="#e2463c" stroke-width="8"/>
</g>
<use href="#fUSA" transform="translate(107.8,227.0)"/>
<use href="#fJPN" transform="translate(107.8,274.3)"/>
<use href="#fDEU" transform="translate(107.8,321.5)"/>
<use href="#fGBR" transform="translate(107.8,368.8)"/>
<use href="#fFRA" transform="translate(107.8,416.1)"/>
<use href="#fCHN" transform="translate(107.8,463.3)"/>
<use href="#fITA" transform="translate(107.8,510.6)"/>
<use href="#fCAN" transform="translate(107.8,557.8)"/>
<use href="#fMEX" transform="translate(107.8,605.1)"/>
<use href="#fBRA" transform="translate(107.8,652.4)"/>
<use href="#fESP" transform="translate(107.8,699.6)"/>
<use href="#fKOR" transform="translate(107.8,746.9)"/>
<use href="#fIND" transform="translate(107.8,794.2)"/>
<use href="#fIRN" transform="translate(107.8,841.4)"/>
<use href="#fNLD" transform="translate(107.8,888.7)"/>
<use href="#fAUS" transform="translate(107.8,935.9)"/>
<use href="#fTWN" transform="translate(107.8,983.2)"/>
<use href="#fARG" transform="translate(107.8,1030.5)"/>
<use href="#fCHE" transform="translate(107.8,1077.7)"/>
<use href="#fRUS" transform="translate(107.8,1125.0)"/>
<use href="#fUSA" transform="translate(258.7,227.0)"/>
<use href="#fJPN" transform="translate(258.7,274.3)"/>
<use href="#fDEU" transform="translate(258.7,321.5)"/>
<use href="#fGBR" transform="translate(258.7,368.8)"/>
<use href="#fCHN" transform="translate(258.7,416.1)"/>
<use href="#fFRA" transform="translate(258.7,463.3)"/>
<use href="#fITA" transform="translate(258.7,510.6)"/>
<use href="#fCAN" transform="translate(258.7,557.8)"/>
<use href="#fESP" transform="translate(258.7,605.1)"/>
<use href="#fKOR" transform="translate(258.7,652.4)"/>
<use href="#fMEX" transform="translate(258.7,699.6)"/>
<use href="#fBRA" transform="translate(258.7,746.9)"/>
<use href="#fIND" transform="translate(258.7,794.2)"/>
<use href="#fRUS" transform="translate(258.7,841.4)"/>
<use href="#fAUS" transform="translate(258.7,888.7)"/>
<use href="#fNLD" transform="translate(258.7,935.9)"/>
<use href="#fTUR" transform="translate(258.7,983.2)"/>
<use href="#fCHE" transform="translate(258.7,1030.5)"/>
<use href="#fSWE" transform="translate(258.7,1077.7)"/>
<use href="#fBEL" transform="translate(258.7,1125.0)"/>
<use href="#fUSA" transform="translate(409.6,227.0)"/>
<use href="#fCHN" transform="translate(409.6,274.3)"/>
<use href="#fJPN" transform="translate(409.6,321.5)"/>
<use href="#fDEU" transform="translate(409.6,368.8)"/>
<use href="#fFRA" transform="translate(409.6,416.1)"/>
<use href="#fGBR" transform="translate(409.6,463.3)"/>
<use href="#fBRA" transform="translate(409.6,510.6)"/>
<use href="#fITA" transform="translate(409.6,557.8)"/>
<use href="#fIND" transform="translate(409.6,605.1)"/>
<use href="#fRUS" transform="translate(409.6,652.4)"/>
<use href="#fCAN" transform="translate(409.6,699.6)"/>
<use href="#fESP" transform="translate(409.6,746.9)"/>
<use href="#fAUS" transform="translate(409.6,794.2)"/>
<use href="#fKOR" transform="translate(409.6,841.4)"/>
<use href="#fMEX" transform="translate(409.6,888.7)"/>
<use href="#fNLD" transform="translate(409.6,935.9)"/>
<use href="#fTUR" transform="translate(409.6,983.2)"/>
<use href="#fIDN" transform="translate(409.6,1030.5)"/>
<use href="#fIRN" transform="translate(409.6,1077.7)"/>
<use href="#fCHE" transform="translate(409.6,1125.0)"/>
<use href="#fUSA" transform="translate(560.4,227.0)"/>
<use href="#fCHN" transform="translate(560.4,274.3)"/>
<use href="#fJPN" transform="translate(560.4,321.5)"/>
<use href="#fDEU" transform="translate(560.4,368.8)"/>
<use href="#fGBR" transform="translate(560.4,416.1)"/>
<use href="#fFRA" transform="translate(560.4,463.3)"/>
<use href="#fIND" transform="translate(560.4,510.6)"/>
<use href="#fITA" transform="translate(560.4,557.8)"/>
<use href="#fBRA" transform="translate(560.4,605.1)"/>
<use href="#fCAN" transform="translate(560.4,652.4)"/>
<use href="#fKOR" transform="translate(560.4,699.6)"/>
<use href="#fRUS" transform="translate(560.4,746.9)"/>
<use href="#fAUS" transform="translate(560.4,794.2)"/>
<use href="#fMEX" transform="translate(560.4,841.4)"/>
<use href="#fESP" transform="translate(560.4,888.7)"/>
<use href="#fTUR" transform="translate(560.4,935.9)"/>
<use href="#fIDN" transform="translate(560.4,983.2)"/>
<use href="#fNLD" transform="translate(560.4,1030.5)"/>
<use href="#fNGA" transform="translate(560.4,1077.7)"/>
<use href="#fCHE" transform="translate(560.4,1125.0)"/>
<use href="#fUSA" transform="translate(711.3,227.0)"/>
<use href="#fCHN" transform="translate(711.3,274.3)"/>
<use href="#fJPN" transform="translate(711.3,321.5)"/>
<use href="#fDEU" transform="translate(711.3,368.8)"/>
<use href="#fGBR" transform="translate(711.3,416.1)"/>
<use href="#fIND" transform="translate(711.3,463.3)"/>
<use href="#fFRA" transform="translate(711.3,510.6)"/>
<use href="#fITA" transform="translate(711.3,557.8)"/>
<use href="#fKOR" transform="translate(711.3,605.1)"/>
<use href="#fCAN" transform="translate(711.3,652.4)"/>
<use href="#fRUS" transform="translate(711.3,699.6)"/>
<use href="#fBRA" transform="translate(711.3,746.9)"/>
<use href="#fAUS" transform="translate(711.3,794.2)"/>
<use href="#fESP" transform="translate(711.3,841.4)"/>
<use href="#fMEX" transform="translate(711.3,888.7)"/>
<use href="#fIDN" transform="translate(711.3,935.9)"/>
<use href="#fNLD" transform="translate(711.3,983.2)"/>
<use href="#fSAU" transform="translate(711.3,1030.5)"/>
<use href="#fCHE" transform="translate(711.3,1077.7)"/>
<use href="#fTUR" transform="translate(711.3,1125.0)"/>
<use href="#fUSA" transform="translate(862.2,227.0)"/>
<use href="#fCHN" transform="translate(862.2,274.3)"/>
<use href="#fDEU" transform="translate(862.2,321.5)"/>
<use href="#fJPN" transform="translate(862.2,368.8)"/>
<use href="#fIND" transform="translate(862.2,416.1)"/>
<use href="#fGBR" transform="translate(862.2,463.3)"/>
<use href="#fFRA" transform="translate(862.2,510.6)"/>
<use href="#fITA" transform="translate(862.2,557.8)"/>
<use href="#fRUS" transform="translate(862.2,605.1)"/>
<use href="#fCAN" transform="translate(862.2,652.4)"/>
<use href="#fBRA" transform="translate(862.2,699.6)"/>
<use href="#fESP" transform="translate(862.2,746.9)"/>
<use href="#fMEX" transform="translate(862.2,794.2)"/>
<use href="#fKOR" transform="translate(862.2,841.4)"/>
<use href="#fAUS" transform="translate(862.2,888.7)"/>
<use href="#fTUR" transform="translate(862.2,935.9)"/>
<use href="#fIDN" transform="translate(862.2,983.2)"/>
<use href="#fNLD" transform="translate(862.2,1030.5)"/>
<use href="#fSAU" transform="translate(862.2,1077.7)"/>
<use href="#fPOL" transform="translate(862.2,1125.0)"/>
<text transform="translate(81.2,234.2) scale(0.7,1)" text-anchor="end" font-family="'Liberation Sans', sans-serif" font-weight="bold" font-size="17.6" fill="#171614">USA</text>
<text transform="translate(81.2,281.5) scale(0.7,1)" text-anchor="end" font-family="'Liberation Sans', sans-serif" font-weight="bold" font-size="17.6" fill="#e2463c">JPN</text>
<text transform="translate(81.2,328.7) scale(0.7,1)" text-anchor="end" font-family="'Liberation Sans', sans-serif" font-weight="bold" font-size="17.6" fill="#2a98c0">DEU</text>
<text transform="translate(81.2,376.0) scale(0.7,1)" text-anchor="end" font-family="'Liberation Sans', sans-serif" font-weight="bold" font-size="17.6" fill="#2a98c0">GBR</text>
<text transform="translate(81.2,423.3) scale(0.7,1)" text-anchor="end" font-family="'Liberation Sans', sans-serif" font-weight="bold" font-size="17.6" fill="#2a98c0">FRA</text>
<text transform="translate(81.2,470.5) scale(0.7,1)" text-anchor="end" font-family="'Liberation Sans', sans-serif" font-weight="bold" font-size="17.6" fill="#e2463c">CHN</text>
<text transform="translate(81.2,517.8) scale(0.7,1)" text-anchor="end" font-family="'Liberation Sans', sans-serif" font-weight="bold" font-size="17.6" fill="#2a98c0">ITA</text>
<text transform="translate(81.2,565.0) scale(0.7,1)" text-anchor="end" font-family="'Liberation Sans', sans-serif" font-weight="bold" font-size="17.6" fill="#171614">CAN</text>
<text transform="translate(81.2,612.3) scale(0.7,1)" text-anchor="end" font-family="'Liberation Sans', sans-serif" font-weight="bold" font-size="17.6" fill="#171614">MEX</text>
<text transform="translate(81.2,659.6) scale(0.7,1)" text-anchor="end" font-family="'Liberation Sans', sans-serif" font-weight="bold" font-size="17.6" fill="#171614">BRA</text>
<text transform="translate(81.2,706.8) scale(0.7,1)" text-anchor="end" font-family="'Liberation Sans', sans-serif" font-weight="bold" font-size="17.6" fill="#2a98c0">ESP</text>
<text transform="translate(81.2,754.1) scale(0.7,1)" text-anchor="end" font-family="'Liberation Sans', sans-serif" font-weight="bold" font-size="17.6" fill="#e2463c">KOR</text>
<text transform="translate(81.2,801.4) scale(0.7,1)" text-anchor="end" font-family="'Liberation Sans', sans-serif" font-weight="bold" font-size="17.6" fill="#e2463c">IND</text>
<text transform="translate(81.2,848.6) scale(0.7,1)" text-anchor="end" font-family="'Liberation Sans', sans-serif" font-weight="bold" font-size="17.6" fill="#d5b12e">IRN</text>
<text transform="translate(81.2,895.9) scale(0.7,1)" text-anchor="end" font-family="'Liberation Sans', sans-serif" font-weight="bold" font-size="17.6" fill="#2a98c0">NLD</text>
<text transform="translate(81.2,943.1) scale(0.7,1)" text-anchor="end" font-family="'Liberation Sans', sans-serif" font-weight="bold" font-size="17.6" fill="#529c72">AUS</text>
<text transform="translate(81.2,990.4) scale(0.7,1)" text-anchor="end" font-family="'Liberation Sans', sans-serif" font-weight="bold" font-size="17.6" fill="#e2463c">TWN</text>
<text transform="translate(81.2,1037.7) scale(0.7,1)" text-anchor="end" font-family="'Liberation Sans', sans-serif" font-weight="bold" font-size="17.6" fill="#171614">ARG</text>
<text transform="translate(81.2,1084.9) scale(0.7,1)" text-anchor="end" font-family="'Liberation Sans', sans-serif" font-weight="bold" font-size="17.6" fill="#2a98c0">CHE</text>
<text transform="translate(81.2,1132.2) scale(0.7,1)" text-anchor="end" font-family="'Liberation Sans', sans-serif" font-weight="bold" font-size="17.6" fill="#e2463c">RUS</text>
<text transform="translate(232.7,990.4) scale(0.7,1)" text-anchor="end" font-family="'Liberation Sans', sans-serif" font-weight="bold" font-size="17.6" fill="#d5b12e" stroke="#e2e1d5" stroke-width="3.5" paint-order="stroke">TUR</text>
<text transform="translate(232.7,1084.9) scale(0.7,1)" text-anchor="end" font-family="'Liberation Sans', sans-serif" font-weight="bold" font-size="17.6" fill="#2a98c0" stroke="#e2e1d5" stroke-width="3.5" paint-order="stroke">SWE</text>
<text transform="translate(232.7,1132.2) scale(0.7,1)" text-anchor="end" font-family="'Liberation Sans', sans-serif" font-weight="bold" font-size="17.6" fill="#2a98c0" stroke="#e2e1d5" stroke-width="3.5" paint-order="stroke">BEL</text>
<text transform="translate(383.6,1037.7) scale(0.7,1)" text-anchor="end" font-family="'Liberation Sans', sans-serif" font-weight="bold" font-size="17.6" fill="#e2463c" stroke="#e2e1d5" stroke-width="3.5" paint-order="stroke">IDN</text>
<text transform="translate(383.6,1084.9) scale(0.7,1)" text-anchor="end" font-family="'Liberation Sans', sans-serif" font-weight="bold" font-size="17.6" fill="#d5b12e" stroke="#e2e1d5" stroke-width="3.5" paint-order="stroke">IRN</text>
<text transform="translate(534.4,1084.9) scale(0.7,1)" text-anchor="end" font-family="'Liberation Sans', sans-serif" font-weight="bold" font-size="17.6" fill="#7a5a93" stroke="#e2e1d5" stroke-width="3.5" paint-order="stroke">NGA</text>
<text transform="translate(685.3,1037.7) scale(0.7,1)" text-anchor="end" font-family="'Liberation Sans', sans-serif" font-weight="bold" font-size="17.6" fill="#d5b12e" stroke="#e2e1d5" stroke-width="3.5" paint-order="stroke">SAU</text>
<text transform="translate(836.2,1132.2) scale(0.7,1)" text-anchor="end" font-family="'Liberation Sans', sans-serif" font-weight="bold" font-size="17.6" fill="#2a98c0" stroke="#e2e1d5" stroke-width="3.5" paint-order="stroke">POL</text>
<text transform="translate(890.5,238.3) scale(0.62,1)" font-family="'Liberation Sans', sans-serif" font-weight="bold" font-style="italic" font-size="33" fill="#262523" stroke="#262523" stroke-width="0.9">1</text>
<text transform="translate(890.5,285.6) scale(0.62,1)" font-family="'Liberation Sans', sans-serif" font-weight="bold" font-style="italic" font-size="33" fill="#262523" stroke="#262523" stroke-width="0.9">2</text>
<text transform="translate(890.5,332.8) scale(0.62,1)" font-family="'Liberation Sans', sans-serif" font-weight="bold" font-style="italic" font-size="33" fill="#262523" stroke="#262523" stroke-width="0.9">3</text>
<text transform="translate(890.5,380.1) scale(0.62,1)" font-family="'Liberation Sans', sans-serif" font-weight="bold" font-style="italic" font-size="33" fill="#262523" stroke="#262523" stroke-width="0.9">4</text>
<text transform="translate(890.5,427.4) scale(0.62,1)" font-family="'Liberation Sans', sans-serif" font-weight="bold" font-style="italic" font-size="33" fill="#262523" stroke="#262523" stroke-width="0.9">5</text>
<text transform="translate(890.5,474.6) scale(0.62,1)" font-family="'Liberation Sans', sans-serif" font-weight="bold" font-style="italic" font-size="33" fill="#262523" stroke="#262523" stroke-width="0.9">6</text>
<text transform="translate(890.5,521.9) scale(0.62,1)" font-family="'Liberation Sans', sans-serif" font-weight="bold" font-style="italic" font-size="33" fill="#262523" stroke="#262523" stroke-width="0.9">7</text>
<text transform="translate(890.5,569.1) scale(0.62,1)" font-family="'Liberation Sans', sans-serif" font-weight="bold" font-style="italic" font-size="33" fill="#262523" stroke="#262523" stroke-width="0.9">8</text>
<text transform="translate(890.5,616.4) scale(0.62,1)" font-family="'Liberation Sans', sans-serif" font-weight="bold" font-style="italic" font-size="33" fill="#262523" stroke="#262523" stroke-width="0.9">9</text>
<text transform="translate(890.5,663.7) scale(0.62,1)" font-family="'Liberation Sans', sans-serif" font-weight="bold" font-style="italic" font-size="33" fill="#262523" stroke="#262523" stroke-width="0.9">10</text>
<text transform="translate(890.5,710.9) scale(0.62,1)" font-family="'Liberation Sans', sans-serif" font-weight="bold" font-style="italic" font-size="33" fill="#262523" stroke="#262523" stroke-width="0.9">11</text>
<text transform="translate(890.5,758.2) scale(0.62,1)" font-family="'Liberation Sans', sans-serif" font-weight="bold" font-style="italic" font-size="33" fill="#262523" stroke="#262523" stroke-width="0.9">12</text>
<text transform="translate(890.5,805.5) scale(0.62,1)" font-family="'Liberation Sans', sans-serif" font-weight="bold" font-style="italic" font-size="33" fill="#262523" stroke="#262523" stroke-width="0.9">13</text>
<text transform="translate(890.5,852.7) scale(0.62,1)" font-family="'Liberation Sans', sans-serif" font-weight="bold" font-style="italic" font-size="33" fill="#262523" stroke="#262523" stroke-width="0.9">14</text>
<text transform="translate(890.5,900.0) scale(0.62,1)" font-family="'Liberation Sans', sans-serif" font-weight="bold" font-style="italic" font-size="33" fill="#262523" stroke="#262523" stroke-width="0.9">15</text>
<text transform="translate(890.5,947.2) scale(0.62,1)" font-family="'Liberation Sans', sans-serif" font-weight="bold" font-style="italic" font-size="33" fill="#262523" stroke="#262523" stroke-width="0.9">16</text>
<text transform="translate(890.5,994.5) scale(0.62,1)" font-family="'Liberation Sans', sans-serif" font-weight="bold" font-style="italic" font-size="33" fill="#262523" stroke="#262523" stroke-width="0.9">17</text>
<text transform="translate(890.5,1041.8) scale(0.62,1)" font-family="'Liberation Sans', sans-serif" font-weight="bold" font-style="italic" font-size="33" fill="#262523" stroke="#262523" stroke-width="0.9">18</text>
<text transform="translate(890.5,1089.0) scale(0.62,1)" font-family="'Liberation Sans', sans-serif" font-weight="bold" font-style="italic" font-size="33" fill="#262523" stroke="#262523" stroke-width="0.9">19</text>
<text transform="translate(890.5,1136.3) scale(0.62,1)" font-family="'Liberation Sans', sans-serif" font-weight="bold" font-style="italic" font-size="33" fill="#262523" stroke="#262523" stroke-width="0.9">20</text>
<text transform="translate(902.5,232.6) scale(0.8,1)" font-family="'Liberation Sans', sans-serif" font-weight="bold" font-style="italic" font-size="20.5" fill="#262523" stroke="#262523" stroke-width="0.6">rank</text>
<text x="953" y="1198" text-anchor="end" font-family="'Liberation Sans', sans-serif" font-style="italic" font-size="17.5" fill="#232220" stroke="#232220" stroke-width="0.35" textLength="260" lengthAdjust="spacingAndGlyphs">Source: IMF, World Economic Outlook Oct 2025</text>
<g fill="#1a1a1a"><circle cx="21.8" cy="1189.3" r="9.6" fill="none" stroke="#1a1a1a" stroke-width="2"/><circle cx="38.6" cy="1189.3" r="9.6" fill="none" stroke="#1a1a1a" stroke-width="2"/><path d="M12.6,1186 C14,1178 20,1172.5 26.5,1172.8 C28.5,1173 29.5,1174 30.2,1174.6 C31,1174 32,1173 34,1172.8 C40.5,1172.5 46.5,1178 47.8,1186 C45,1181 40.5,1179.5 36,1180.5 C33,1181.3 31.2,1183 30.2,1184.5 C29.2,1183 27.4,1181.3 24.4,1180.5 C20,1179.5 15.4,1181 12.6,1186 Z"/><path d="M19,1197.5 C17,1193 19.5,1187.5 25,1186.2 C27,1185.5 29,1185.8 30.5,1186.5 C33,1185.2 37,1186 39.5,1188.5 C42.5,1190 43.5,1193 42,1195 C41,1197 38.5,1198.6 35,1198.6 L25,1198.6 C22.5,1198.6 20.2,1198.4 19,1197.5 Z"/><path d="M16.5,1192.8 L19.5,1193.5 L19,1195 Z"/></g>
<text x="52" y="1185" font-family="'Liberation Sans', sans-serif" font-weight="bold" font-size="10.4" fill="#1a1a1a" stroke="#1a1a1a" stroke-width="0.3" textLength="49.5" lengthAdjust="spacing">VISUAL</text>
<text x="52" y="1195.4" font-family="'Liberation Sans', sans-serif" font-weight="bold" font-size="10.4" fill="#1a1a1a" stroke="#1a1a1a" stroke-width="0.3" textLength="79.5" lengthAdjust="spacing">CAPITALIST</text>
<rect x="0" y="1209" width="966" height="48" fill="#3d956b"/>
<g stroke-linejoin="round"><path d="M39.5,1218.5 L66,1218.5 L52.5,1240 Z" fill="#3f976b" stroke="#d9efc8" stroke-width="3"/><path d="M40.5,1219.5 L53,1219.5 L50.5,1226.5 L44,1225 Z" fill="#c9d94a"/><path d="M53,1219.5 L65,1219.5 L58,1228 L50.5,1226.5 Z" fill="#8cc43c"/><path d="M40.5,1219.5 L44,1225 L47.5,1232 Z" fill="#6aa6d8"/><path d="M44,1225 L50.5,1226.5 L47.5,1232 Z" fill="#9cc9a0"/><path d="M47.5,1232 L50.5,1226.5 L58,1228 L52.5,1239 Z" fill="#2f8a6a"/><path d="M58,1228 L65,1219.5 L52.5,1239 Z" fill="#5fb068"/></g>
<text x="71" y="1236.6" font-family="'Liberation Sans', sans-serif" font-weight="bold" font-size="27" fill="#e9f5ee" textLength="97.5" lengthAdjust="spacingAndGlyphs">voronoi</text>
<text x="79" y="1249.2" font-family="'Liberation Sans', sans-serif" font-weight="bold" font-size="6.6" fill="#d6ecdf" textLength="89" lengthAdjust="spacing">BY VISUAL CAPITALIST</text>
<rect x="188" y="1218" width="1" height="29" fill="#8cc4a4"/>
<text x="205" y="1238" font-family="'Liberation Sans', sans-serif" font-size="15.8" fill="#e3f3e9" textLength="171" lengthAdjust="spacingAndGlyphs">Where Data Tells the Story</text>
<rect x="735.3" y="1216.5" width="95" height="31.8" rx="4.5" fill="#161616"/>
<path d="M752,1228.5 C749.5,1227 745,1227.6 744.7,1232.5 C744.7,1236.5 747.3,1241 749.3,1241 C750.5,1241 751,1240.3 752.2,1240.3 C753.4,1240.3 753.8,1241 755,1241 C756.8,1241 758.3,1238 758.8,1236.5 C756.8,1235.6 756,1231.4 758.4,1229.8 C757,1227.6 754,1227.4 752,1228.5Z M752,1227.6 C752,1225.6 753.5,1224.2 755,1224 C755.2,1226 753.8,1227.5 752,1227.6Z" fill="#f2f2f2"/>
<text x="762" y="1228.8" font-family="'Liberation Sans', sans-serif" font-weight="bold" font-size="7.2" fill="#f2f2f2" textLength="56" lengthAdjust="spacingAndGlyphs">Download on the</text>
<text x="761.5" y="1242.6" font-family="'Liberation Sans', sans-serif" font-size="15.5" fill="#f2f2f2" stroke="#f2f2f2" stroke-width="0.35" textLength="63" lengthAdjust="spacingAndGlyphs">App Store</text>
<rect x="845.3" y="1216.5" width="94.2" height="31.8" rx="4.5" fill="#161616"/>
<path d="M852.5,1223.5 L852.5,1242 L862,1232.7 Z" fill="#2fb1e8"/><path d="M852.5,1223.5 L866.3,1230.3 L862,1232.7 Z" fill="#35c46b"/><path d="M852.5,1242 L866.3,1235.2 L862,1232.7 Z" fill="#eb4437"/><path d="M866.3,1230.3 L871,1232.7 L866.3,1235.2 L862,1232.7 Z" fill="#f8c12c"/>
<text x="875.5" y="1227.8" font-family="'Liberation Sans', sans-serif" font-size="6.5" fill="#f2f2f2" textLength="23" lengthAdjust="spacingAndGlyphs">GET IT ON</text>
<text x="874.5" y="1242.4" font-family="'Liberation Sans', sans-serif" font-size="15.5" fill="#f2f2f2" stroke="#f2f2f2" stroke-width="0.35" textLength="59" lengthAdjust="spacingAndGlyphs">Google Play</text>
</svg>
</body></html>
